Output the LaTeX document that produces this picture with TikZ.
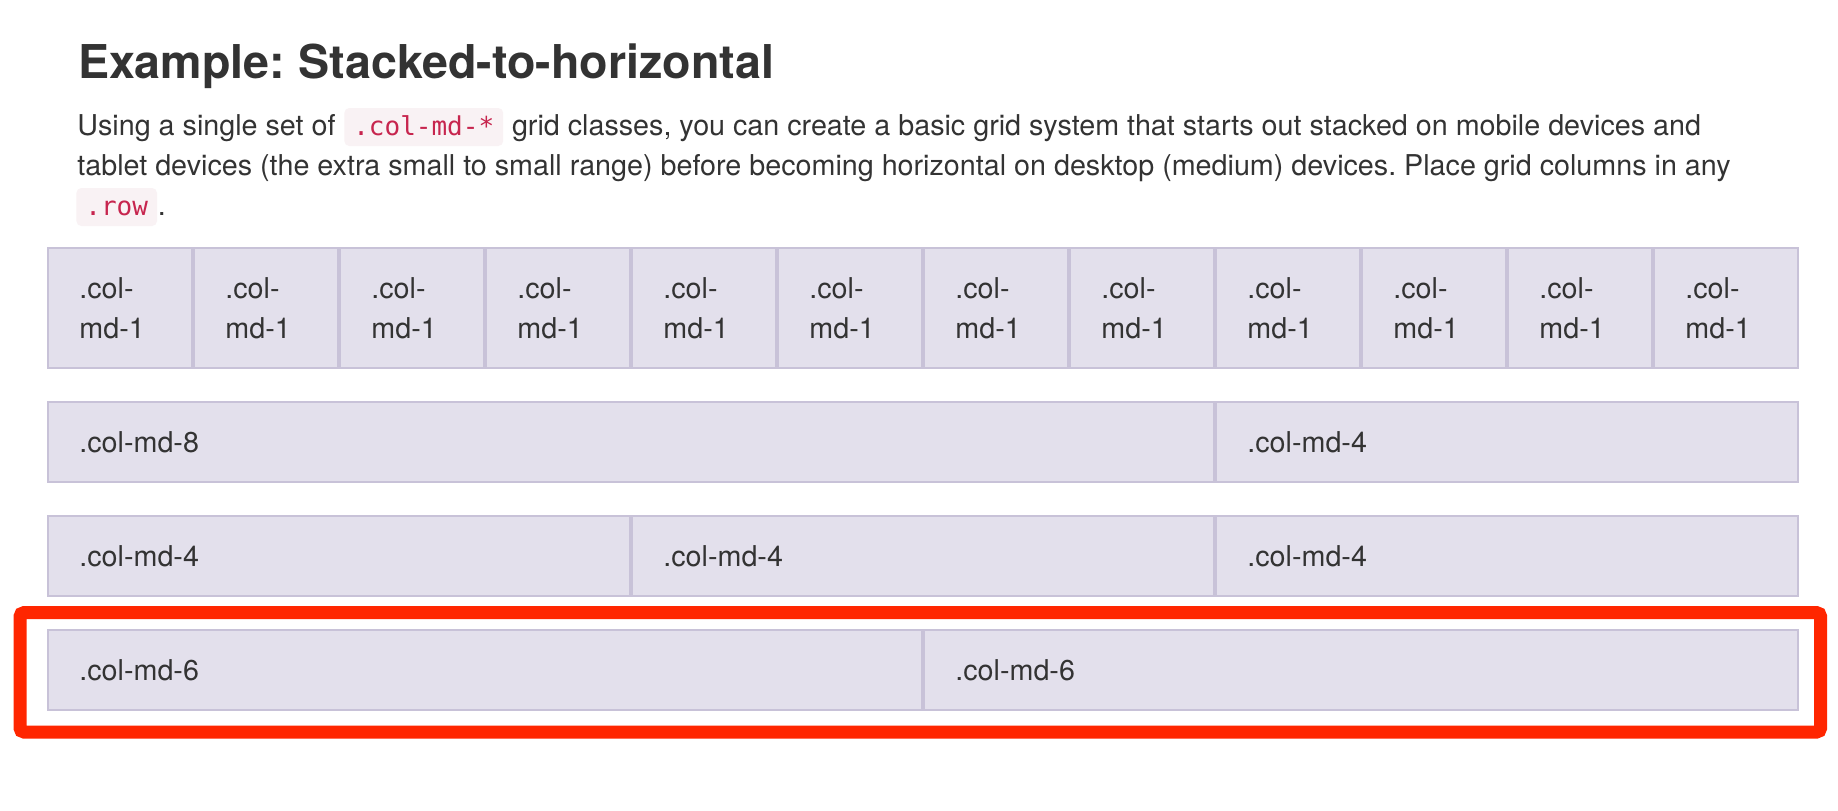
\documentclass[tikz,border=0pt]{standalone}
\usepackage{fontspec}
\setmainfont{TeX Gyre Heros}
\setmonofont{DejaVu Sans Mono}
\usetikzlibrary{positioning}
\frenchspacing

\definecolor{textdark}{HTML}{333333}
\definecolor{gridfill}{HTML}{E3E0EC}
\definecolor{gridline}{HTML}{C8C2D8}
\definecolor{codered}{HTML}{C7254E}
\definecolor{codebg}{HTML}{F9F2F4}
\definecolor{markred}{HTML}{FF2600}

\tikzset{
  cell/.style={draw=gridline, fill=gridfill, line width=1pt, anchor=north west,
    outer sep=0pt, inner sep=0pt},
  celltext/.style={anchor=base west, inner sep=0pt, text=textdark,
    font=\fontsize{14.35}{20}\selectfont},
  para/.style={anchor=base west, inner sep=0pt, text=textdark,
    font=\fontsize{14.35}{20}\selectfont},
  code/.style={anchor=base west, fill=codebg, text=codered, rounded corners=2.5pt,
    inner xsep=4.5pt, inner ysep=0pt, text height=13.5pt, text depth=5.5pt,
    font=\ttfamily\fontsize{13}{20}\selectfont},
  heading/.style={anchor=base west, inner sep=0pt, text=textdark,
    font=\bfseries\fontsize{23.3}{28}\selectfont},
  marker/.style={draw=markred, line width=6.5pt, rounded corners=2pt}
}

\begin{document}
\begin{tikzpicture}[x=1pt,y=-1pt]
\fill[white] (0,0) rectangle (919,405);
\useasboundingbox (0,0) rectangle (919,405);

\node[heading] (title) at (39,39) {Example: Stacked-to-horizontal};

\node[para] (p1a) at (38.5,67.5) {Using a single set of};
\node[code] (code1) at ([xshift=4pt]p1a.base east) {.col-md-*};
\node[para] (p1b) at ([xshift=4pt]code1.base east) {grid classes, you can create a basic grid system that starts out stacked on mobile devices and};
\node[para] (p2) at (38.5,87.5) {tablet devices (the extra small to small range) before becoming horizontal on desktop (medium) devices. Place grid columns in any};
\node[code] (code2) at (38,107.5) {.row};
\node[para] (p3) at (code2.base east) {.};

% row of twelve
\foreach \i in {0,...,11}{
  \node[cell, minimum width=72pt, minimum height=60pt] (a\i) at ({24+73*\i},124) {};
  \node[celltext] at ([shift={(15.5,25)}]a\i.north west) {.col-};
  \node[celltext] at ([shift={(15.5,45)}]a\i.north west) {md-1};
}

% wider columns
\foreach \n/\y/\c/\w/\t in {b1/201/0/8/.col-md-8, b2/201/8/4/.col-md-4,
    c1/258/0/4/.col-md-4, c2/258/4/4/.col-md-4, c3/258/8/4/.col-md-4,
    d1/315/0/6/.col-md-6, d2/315/6/6/.col-md-6}{
  \node[cell, minimum width={73*\w-1}, minimum height=40pt] (\n) at ({24+73*\c},\y) {};
  \node[celltext] at ([shift={(15.5,25)}]\n.north west) {\t};
}

\draw[marker] (10,306.3) rectangle (910.3,366);
\end{tikzpicture}
\end{document}
